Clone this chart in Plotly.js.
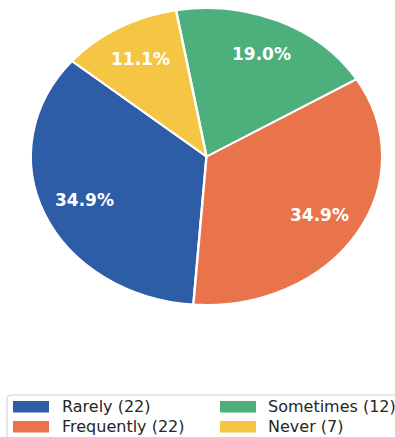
<!DOCTYPE html>
<html>
<head>
<meta charset="utf-8">
<script src="https://cdn.plot.ly/plotly-3.0.1.min.js"></script>
<style>
  html, body { margin: 0; padding: 0; background: #ffffff; }
  #wrap { position: relative; width: 395px; height: 437px; overflow: hidden; background: #ffffff; }
  #pie { position: absolute; left: 0; top: 0; width: 395px; height: 437px; }
  #overlay { position: absolute; left: 0; top: 0; width: 395px; height: 437px; pointer-events: none; }
</style>
</head>
<body>
<div id="wrap">
  <div id="pie"></div>
  <div id="overlay"></div>
</div>
<script>
// ---- data ----
const categories = ['Rarely', 'Frequently', 'Sometimes', 'Never'];
const counts = [22, 22, 12, 7];
const sliceColors = ['#2e5da8', '#e9744b', '#4caf7c', '#f4c644'];

// ---- geometry of the (elliptical) pie ----
const W = 395, H = 437;
const CX = 206.5, CY = 156.5;       // pie centre (px)
const RY = 148.5;                     // drawn radius (px, vertical)
const STRETCH = 174.5 / 147.5;        // horizontal stretch of the pie
const START_DEG = 140;                // first slice starts here (ccw from east)
const PCT_DIST = 0.76;
const px = x => x / W;
const py = y => 1 - y / H;

const total = counts.reduce((a, b) => a + b, 0);

// ---- pie (circular, stretched horizontally with CSS) ----
const pieDiv = document.getElementById('pie');
pieDiv.style.transformOrigin = CX + 'px 0px';
pieDiv.style.transform = 'scaleX(' + STRETCH + ')';

// Plotly's counterclockwise pies put the first slice clockwise of `rotation`,
// so rotate to the far edge of the first slice (clockwise degrees from 12 o'clock).
const plotlyRotation = 90 - (START_DEG + 360 * counts[0] / total);

Plotly.newPlot(pieDiv, [{
  type: 'pie',
  labels: categories,
  values: counts,
  marker: { colors: sliceColors, line: { color: '#ffffff', width: 2 } },
  sort: false,
  direction: 'counterclockwise',
  rotation: plotlyRotation,
  textinfo: 'none',
  hoverinfo: 'label+value+percent',
  showlegend: false,
  domain: { x: [px(CX - RY), px(CX + RY)], y: [py(CY + RY), py(CY - RY)] }
}], {
  width: W, height: H,
  margin: { l: 0, r: 0, t: 0, b: 0 },
  paper_bgcolor: '#ffffff',
  showlegend: false
}, { displayModeBar: false, staticPlot: true });

// ---- percentage labels + legend (unstretched overlay) ----
const annotations = [];
const shapes = [];
let cum = 0;
counts.forEach((v, i) => {
  const midDeg = START_DEG + 360 * (cum + v / 2) / total;
  cum += v;
  const a = midDeg * Math.PI / 180;
  const x = CX + Math.cos(a) * PCT_DIST * 147.5 * STRETCH;
  const y = CY - Math.sin(a) * PCT_DIST * 147.5;
  annotations.push({
    xref: 'paper', yref: 'paper', x: px(x), y: py(y),
    xanchor: 'center', yanchor: 'middle', showarrow: false, borderpad: 0,
    text: (100 * v / total).toFixed(1) + '%',
    font: { family: 'DejaVu Sans', size: 17, color: '#ffffff', weight: 'bold' }
  });
});

// legend frame (extends past the right and bottom edges)
shapes.push({
  type: 'path', xref: 'paper', yref: 'paper',
  path: `M ${px(7)},${py(445)} L ${px(7)},${py(399)} Q ${px(7)},${py(395)} ${px(11)},${py(395)} L ${px(420)},${py(395)}`,
  line: { color: '#cfcfcf', width: 1 }, fillcolor: 'rgba(0,0,0,0)'
});
const colPatchX = [13, 220];
const colTextX = [61, 267];
const rowTop = [401, 421];
categories.forEach((c, i) => {
  const col = Math.floor(i / 2), row = i % 2;
  shapes.push({
    type: 'rect', xref: 'paper', yref: 'paper',
    x0: px(colPatchX[col]), x1: px(colPatchX[col] + 36),
    y0: py(rowTop[row] + 11.5), y1: py(rowTop[row]),
    fillcolor: sliceColors[i], line: { width: 0 }
  });
  annotations.push({
    xref: 'paper', yref: 'paper', x: px(colTextX[col]), y: py(rowTop[row] + 5.75),
    xanchor: 'left', yanchor: 'middle', showarrow: false, borderpad: 0,
    text: `${c} (${counts[i]})`,
    font: { family: 'DejaVu Sans', size: 16, color: '#262626' }
  });
});

Plotly.newPlot('overlay', [], {
  width: W, height: H,
  margin: { l: 0, r: 0, t: 0, b: 0 },
  paper_bgcolor: 'rgba(0,0,0,0)',
  plot_bgcolor: 'rgba(0,0,0,0)',
  xaxis: { visible: false }, yaxis: { visible: false },
  showlegend: false,
  annotations: annotations,
  shapes: shapes
}, { displayModeBar: false, staticPlot: true });
</script>
</body>
</html>
